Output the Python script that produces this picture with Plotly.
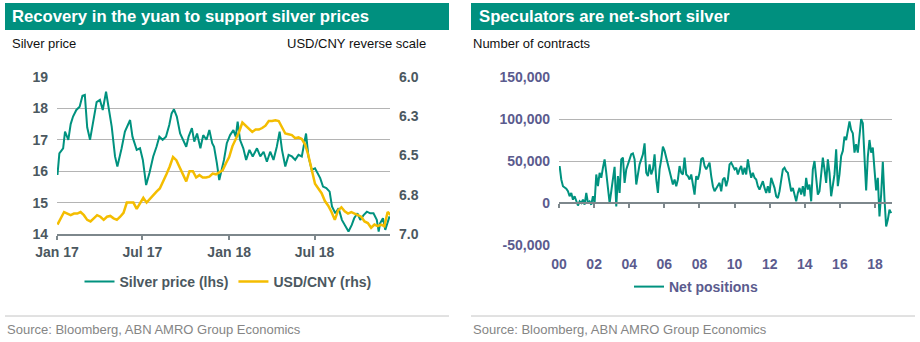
import pandas as pd
import plotly.graph_objects as go

# ---------------- data: left chart ----------------
silver_dates = [
    "2017-01-02", "2017-01-06", "2017-01-14", "2017-01-18", "2017-01-25", "2017-01-30",
    "2017-02-04", "2017-02-11", "2017-02-18", "2017-02-24", "2017-03-01", "2017-03-06",
    "2017-03-12", "2017-03-17", "2017-03-26", "2017-04-02", "2017-04-08", "2017-04-15",
    "2017-04-20", "2017-04-27", "2017-05-04", "2017-05-09", "2017-05-18", "2017-05-25",
    "2017-06-05", "2017-06-10", "2017-06-19", "2017-06-26", "2017-07-02", "2017-07-09",
    "2017-07-16", "2017-07-24", "2017-07-31", "2017-08-06", "2017-08-13", "2017-08-20",
    "2017-08-27", "2017-09-01", "2017-09-06", "2017-09-12", "2017-09-19", "2017-09-25",
    "2017-10-02", "2017-10-07", "2017-10-14", "2017-10-19", "2017-10-25", "2017-11-01",
    "2017-11-07", "2017-11-14", "2017-11-20", "2017-11-26", "2017-11-30", "2017-12-06",
    "2017-12-11", "2017-12-16", "2017-12-21", "2017-12-27", "2018-01-03", "2018-01-10",
    "2018-01-15", "2018-01-19", "2018-01-24", "2018-01-31", "2018-02-06", "2018-02-13",
    "2018-02-20", "2018-03-01", "2018-03-08", "2018-03-15", "2018-03-22", "2018-03-29",
    "2018-04-05", "2018-04-12", "2018-04-18", "2018-04-23", "2018-04-30", "2018-05-07",
    "2018-05-14", "2018-05-21", "2018-05-28", "2018-06-04", "2018-06-09", "2018-06-13",
    "2018-06-18", "2018-06-25", "2018-07-02", "2018-07-07", "2018-07-13", "2018-07-19",
    "2018-07-26", "2018-08-02", "2018-08-07", "2018-08-14", "2018-08-21", "2018-08-28",
    "2018-09-04", "2018-09-11", "2018-09-18", "2018-09-23", "2018-09-30", "2018-10-06",
    "2018-10-13", "2018-10-20", "2018-10-27", "2018-11-03", "2018-11-10", "2018-11-14",
    "2018-11-17", "2018-11-23", "2018-11-28", "2018-12-03", "2018-12-07",
]
silver_price = [
    15.88, 16.57, 16.73, 17.26, 17.00, 17.50,
    17.74, 17.95, 18.05, 18.40, 18.43, 17.40,
    17.00, 17.40, 18.20, 18.27, 17.95, 18.53,
    18.05, 17.42, 16.47, 16.15, 16.73, 17.26,
    17.63, 17.10, 16.68, 16.73, 16.36, 15.56,
    15.94, 16.47, 16.78, 17.10, 17.00, 17.10,
    17.47, 17.84, 17.97, 17.74, 17.20, 17.00,
    16.78, 17.10, 17.37, 16.94, 17.20, 16.73,
    17.15, 17.00, 17.31, 16.89, 16.78, 16.25,
    15.72, 16.04, 16.36, 16.89, 17.15, 17.31,
    17.10, 17.58, 17.00, 16.73, 16.36, 16.68,
    16.47, 16.73, 16.47, 16.62, 16.30, 16.62,
    16.36, 16.78, 17.26, 16.68, 16.15, 16.52,
    16.47, 16.36, 16.52, 16.47, 16.94, 17.20,
    16.47, 16.04, 16.09, 15.94, 15.78, 15.51,
    15.46, 15.35, 14.88, 14.66, 14.82, 14.45,
    14.24, 14.08, 14.29, 14.50, 14.66, 14.45,
    14.60, 14.71, 14.66, 14.66, 14.45, 14.08,
    14.34, 14.50, 14.13, 14.34, 14.56,
]
usdcny_start = "2017-01-02"
usdcny = [
    6.94, 6.90, 6.86, 6.87, 6.88, 6.87, 6.87, 6.86, 6.88, 6.91,
    6.92, 6.90, 6.88, 6.89, 6.91, 6.89, 6.885, 6.90, 6.91, 6.89,
    6.865, 6.80, 6.80, 6.80, 6.84, 6.80, 6.77, 6.80, 6.775, 6.75,
    6.73, 6.71, 6.67, 6.62, 6.57, 6.51, 6.53, 6.575, 6.625, 6.665,
    6.60, 6.60, 6.64, 6.625, 6.64, 6.64, 6.635, 6.615, 6.62, 6.61,
    6.595, 6.55, 6.51, 6.44, 6.40, 6.35, 6.29, 6.31, 6.335, 6.35,
    6.335, 6.335, 6.325, 6.31, 6.28, 6.28, 6.275, 6.28, 6.32, 6.36,
    6.365, 6.37, 6.39, 6.385, 6.395, 6.43, 6.50, 6.60, 6.68, 6.71,
    6.74, 6.79, 6.82, 6.86, 6.91, 6.85, 6.83, 6.855, 6.87, 6.86,
    6.87, 6.88, 6.89, 6.92, 6.93, 6.96, 6.94, 6.95, 6.94, 6.95,
    6.86, 6.88,
]
left_tickvals = ["2017-01-01", "2017-07-01", "2018-01-01", "2018-07-01"]
left_ticktext = ["Jan 17", "Jul 17", "Jan 18", "Jul 18"]
cny_tickvals = [6.0, 6.25, 6.5, 6.75, 7.0]
cny_ticktext = ["6.0", "6.3", "6.5", "6.8", "7.0"]

# ---------------- data: right chart ----------------
net_start, net_end = "2000-01-14", "2018-12-02"
net_positions = [
    44000, 28000, 20000, 19000, 17000, 14000, 8000, 12000, 4000, 8000,
    2000, -3000, 2000, 0, 4000, -2000, 12000, 0, 2000, -2000,
    8000, 0, 34000, 20000, 36000, 30000, 42000, 52000, 36000, 18000,
    0, 14000, 30000, 43000, -4000, 32000, 12000, 52000, 54000, 24000,
    40000, 46000, 54000, 58000, 59000, 52000, 22000, 36000, 46000, 52000,
    58000, 71000, 36000, 32000, 46000, 34000, 40000, 58000, 28000, 12000,
    40000, 52000, 67000, 62000, 54000, 44000, 36000, 28000, 22000, 28000,
    20000, 28000, 44000, 36000, 34000, 54000, 34000, 32000, 28000, 34000,
    24000, 10000, 32000, 28000, 36000, 52000, 54000, 44000, 40000, 44000,
    48000, 32000, 20000, 14000, 18000, 20000, 24000, 14000, 28000, 30000,
    20000, 28000, 46000, 48000, 44000, 40000, 42000, 34000, 40000, 44000,
    34000, 42000, 34000, 52000, 40000, 30000, 36000, 30000, 28000, 20000,
    16000, 22000, 26000, 18000, 12000, 20000, 12000, 30000, 24000, 18000,
    8000, 6000, 14000, 28000, 40000, 42000, 38000, 36000, 24000, 14000,
    18000, 10000, 2000, 12000, 18000, 10000, 20000, 8000, 30000, 16000,
    22000, 2000, 40000, 50000, 28000, 10000, 14000, 36000, 54000, 40000,
    24000, 52000, 36000, 8000, 20000, 34000, 64000, 20000, 34000, 56000,
    62000, 79000, 75000, 85000, 97000, 87000, 83000, 60000, 70000, 60000,
    85000, 100000, 95000, 50000, 15000, 55000, 75000, 60000, 66000, 40000,
    15000, 30000, -16000, 10000, 49000, 5000, -28000, -20000, -8000, -12000,
]
right_tickvals = ["2000-01-01", "2002-01-01", "2004-01-01", "2006-01-01", "2008-01-01",
                  "2010-01-01", "2012-01-01", "2014-01-01", "2016-01-01", "2018-01-01"]
right_ticktext = ["00", "02", "04", "06", "08", "10", "12", "14", "16", "18"]
net_tickvals = [-50000, 0, 50000, 100000, 150000]
net_ticktext = ["-50,000", "0", "50,000", "100,000", "150,000"]

# ---------------- styling ----------------
W, H = 920, 342
TEAL = "#00927F"
BAR = "#00907F"
YELLOW = "#F4BD00"
SLATE = "#4B5860"
PURPLE = "#5B5B8E"
GRID = "#B4B4B4"
AXIS = "#7D878C"
FONT = "Liberation Sans, Arial, sans-serif"


def px(x):
    return x / W


def py(y):
    return 1 - y / H


usdcny_dates = pd.date_range(usdcny_start, periods=len(usdcny), freq="7D")
net_dates = pd.date_range(net_start, net_end, periods=len(net_positions))

fig = go.Figure()
fig.add_trace(go.Scatter(x=silver_dates, y=silver_price, name="Silver price (lhs)",
                         mode="lines", line=dict(color=TEAL, width=2),
                         xaxis="x", yaxis="y", legend="legend"))
fig.add_trace(go.Scatter(x=usdcny_dates, y=usdcny, name="USD/CNY (rhs)",
                         mode="lines", line=dict(color=YELLOW, width=2.5),
                         xaxis="x", yaxis="y2", legend="legend"))
fig.add_trace(go.Scatter(x=net_dates, y=net_positions, name="Net positions",
                         mode="lines", line=dict(color=TEAL, width=2),
                         xaxis="x3", yaxis="y3", legend="legend2"))
# anchor trace so the zero-line axis is drawn
fig.add_trace(go.Scatter(x=net_dates[:1], y=net_positions[:1], mode="markers",
                         marker=dict(opacity=0), showlegend=False, hoverinfo="skip",
                         xaxis="x4", yaxis="y3"))

tickfont_l = dict(family=FONT, size=14, color=SLATE, weight="bold")
tickfont_r = dict(family=FONT, size=14, color=PURPLE, weight="bold")

fig.update_layout(
    width=W, height=H, margin=dict(l=0, r=0, t=0, b=0, pad=0, autoexpand=False),
    paper_bgcolor="white", plot_bgcolor="white",
    font=dict(family=FONT),
    xaxis=dict(domain=[px(57), px(390)], anchor="y", type="date",
               range=["2017-01-01", "2018-12-08"],
               tickvals=left_tickvals, ticktext=left_ticktext,
               ticks="outside", ticklen=4, tickwidth=1.5, tickcolor=AXIS,
               showline=True, linecolor=AXIS, linewidth=2, showgrid=False,
               tickfont=tickfont_l, zeroline=False, automargin=False),
    yaxis=dict(domain=[py(234), py(77)], range=[14, 19], dtick=1,
               showgrid=True, gridcolor=GRID, gridwidth=1, zeroline=False,
               ticks="", tickfont=tickfont_l, ticklabelstandoff=8, automargin=False),
    yaxis2=dict(overlaying="y", side="right", anchor="x", range=[7.0, 6.0],
                tickvals=cny_tickvals, ticktext=cny_ticktext, showgrid=False,
                zeroline=False, ticks="", tickfont=tickfont_l, ticklabelstandoff=8,
                automargin=False),
    xaxis3=dict(domain=[px(559), px(892)], anchor="y3", type="date",
                range=["2000-01-01", "2018-12-20"],
                tickvals=right_tickvals, ticktext=right_ticktext,
                ticks="", showline=False, showgrid=False, zeroline=False,
                tickfont=tickfont_r, ticklabelstandoff=9, automargin=False),
    xaxis4=dict(overlaying="x3", anchor="free", position=py(203), type="date",
                range=["2000-01-01", "2018-12-20"], tickvals=right_tickvals,
                ticks="outside", ticklen=4, tickwidth=1.5, tickcolor=AXIS,
                showline=True, linecolor=AXIS, linewidth=2,
                showticklabels=False, showgrid=False, zeroline=False, automargin=False),
    yaxis3=dict(domain=[py(245), py(77)], anchor="x3", range=[-50000, 150000],
                tickvals=net_tickvals, ticktext=net_ticktext, showgrid=True,
                gridcolor=GRID, zeroline=False, ticks="", tickfont=tickfont_r,
                ticklabelstandoff=8, automargin=False),
    legend=dict(orientation="h", x=px(228), xanchor="center", y=py(282), yanchor="middle",
                font=dict(family=FONT, size=14, color=SLATE, weight="bold"),
                bgcolor="rgba(0,0,0,0)"),
    legend2=dict(orientation="h", x=px(696), xanchor="center", y=py(287), yanchor="middle",
                 font=dict(family=FONT, size=14, color=PURPLE, weight="bold"),
                 bgcolor="rgba(0,0,0,0)"),
    showlegend=True,
)

# title bars and separators
for x0, x1 in [(5, 449), (471, 915)]:
    fig.add_shape(type="rect", xref="paper", yref="paper", x0=px(x0), x1=px(x1),
                  y0=py(30), y1=py(3), fillcolor=BAR, line=dict(width=0), layer="below")
    fig.add_shape(type="line", xref="paper", yref="paper", x0=px(x0), x1=px(x1),
                  y0=py(316), y1=py(316), line=dict(color="#C4C4C4", width=1))

ann = [
    dict(text="Recovery in the yuan to support silver prices", x=px(10), y=py(17),
         xanchor="left", font=dict(size=16.7, color="white", weight="bold")),
    dict(text="Speculators are net-short silver", x=px(477), y=py(17),
         xanchor="left", font=dict(size=16.7, color="white", weight="bold")),
    dict(text="Silver price", x=px(10), y=py(43), xanchor="left",
         font=dict(size=13, color="#111111")),
    dict(text="USD/CNY reverse scale", x=px(428), y=py(43), xanchor="right",
         font=dict(size=13, color="#111111")),
    dict(text="Number of contracts", x=px(471), y=py(43), xanchor="left",
         font=dict(size=13, color="#111111")),
    dict(text="Source: Bloomberg, ABN AMRO Group Economics", x=px(5), y=py(329),
         xanchor="left", font=dict(size=13, color="#858585")),
    dict(text="Source: Bloomberg, ABN AMRO Group Economics", x=px(471), y=py(329),
         xanchor="left", font=dict(size=13, color="#858585")),
]
for a in ann:
    a["font"]["family"] = FONT
    fig.add_annotation(xref="paper", yref="paper", yanchor="middle", showarrow=False, **a)

fig.write_html("out.html")
